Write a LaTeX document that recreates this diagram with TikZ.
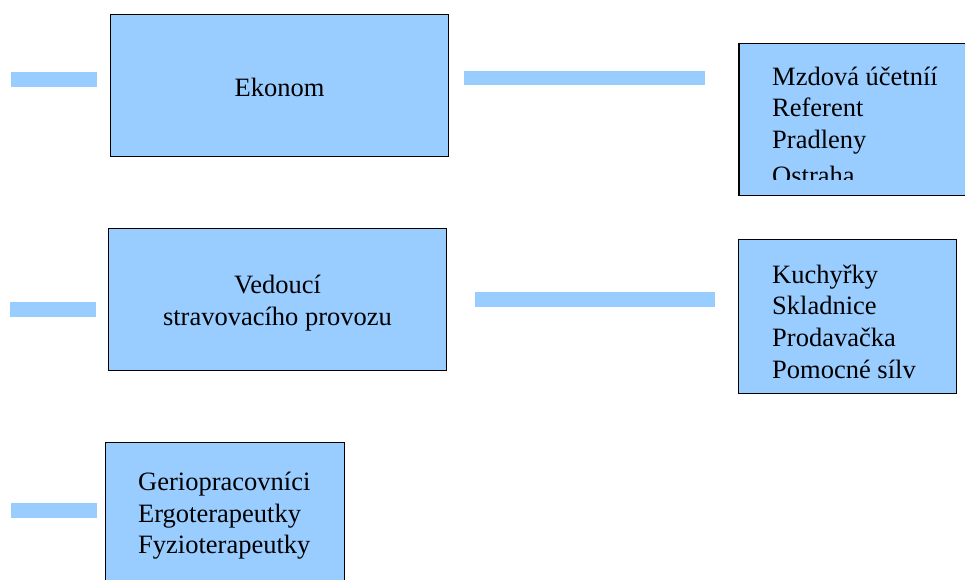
\documentclass[tikz,border=0pt]{standalone}
\usepackage{fontspec}
\setmainfont{Liberation Serif}
\newfontfamily\timesfont{Liberation Serif}
\definecolor{boxblue}{HTML}{99CCFF}
\begin{document}
\begin{tikzpicture}[x=1pt,y=-1pt,
  box/.style={draw=black, line width=1.8pt, fill=boxblue, inner sep=0pt, outer sep=0pt},
  bar/.style={draw=boxblue, line width=14.5pt, line cap=butt},
  lbl/.style={font=\timesfont\fontsize{26.5}{31.7}\selectfont, inner sep=0pt, text=black}]
\useasboundingbox (0,0) rectangle (965,579);
\clip (0,0) rectangle (965,579);
% boxes
\node[box, minimum width=338pt, minimum height=142pt] (ekonom) at (279.5,85.5) {};
\node[box, minimum width=338pt, minimum height=142pt] (vedouci) at (277.5,299.5) {};
\node[box, minimum width=239pt, minimum height=180pt, anchor=north west] (gerio) at (105.5,442.5) {};
\node[box, minimum width=260pt, minimum height=152pt, anchor=north west] (right1) at (739,43.5) {};
\node[box, minimum width=218pt, minimum height=154pt, anchor=north west] (right2) at (738.5,239.5) {};
% texts
\node[lbl, anchor=base] (t-ekonom) at (279.5,96) {Ekonom};
\node[lbl, anchor=base] (t-ved1) at (277.5,293) {Vedoucí};
\node[lbl, anchor=base] (t-ved2) at (277.5,325) {stravovacího provozu};
\begin{scope}
\clip (739,43) rectangle (965,179);
\node[lbl, anchor=base west] (r1a) at (772,85) {Mzdová účetníí};
\node[lbl, anchor=base west] (r1b) at (772,116.5) {Referent};
\node[lbl, anchor=base west] (r1c) at (772,148.5) {Pradleny};
\node[lbl, anchor=base west] (r1d) at (772,184) {Ostraha};
\end{scope}
\node[lbl, anchor=base west] (r2a) at (772,283) {Kuchyřky};
\node[lbl, anchor=base west] (r2b) at (772,314.5) {Skladnice};
\node[lbl, anchor=base west] (r2c) at (772,346) {Prodavačka};
\node[lbl, anchor=base west] (r2d) at (772,378) {Pomocné sílv};
\node[lbl, anchor=base west] (g1) at (138,490) {Geriopracovníci};
\node[lbl, anchor=base west] (g2) at (138,522) {Ergoterapeutky};
\node[lbl, anchor=base west] (g3) at (138,553.5) {Fyzioterapeutky};
% bars
\coordinate (b1a) at (11,79.5);  \coordinate (b1b) at (97,79.5);
\coordinate (b2a) at (464,78);   \coordinate (b2b) at (705,78);
\coordinate (b3a) at (10,309.5); \coordinate (b3b) at (96,309.5);
\coordinate (b4a) at (475,299.5);\coordinate (b4b) at (715,299.5);
\coordinate (b5a) at (11,510.5); \coordinate (b5b) at (97,510.5);
\draw[bar] (b1a) -- (b1b);
\draw[bar] (b2a) -- (b2b);
\draw[bar] (b3a) -- (b3b);
\draw[bar] (b4a) -- (b4b);
\draw[bar] (b5a) -- (b5b);
\end{tikzpicture}
\end{document}
